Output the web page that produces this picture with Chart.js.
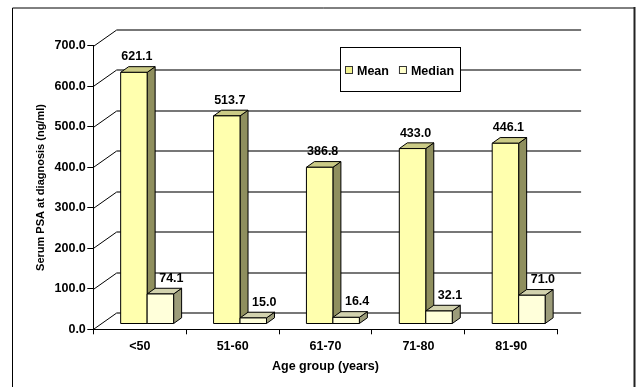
<!DOCTYPE html>
<html>
<head>
<meta charset="utf-8">
<script src="https://cdn.jsdelivr.net/npm/chart.js@4.4.1/dist/chart.umd.min.js"></script>
<style>
  html, body { margin: 0; padding: 0; background: #fff; }
  #wrap { width: 637px; height: 387px; position: relative; }
</style>
</head>
<body>
<div id="wrap"><canvas id="psa" width="637" height="387"></canvas></div>
<script>
// Serum PSA at diagnosis by age group
const ageGroups = ['<50', '51-60', '61-70', '71-80', '81-90'];
const meanPSA = [621.1, 513.7, 386.8, 433.0, 446.1];
const medianPSA = [74.1, 15.0, 16.4, 32.1, 71.0];
const psaTicks = [0, 100, 200, 300, 400, 500, 600, 700];

const FONT = "'Liberation Sans', Arial, Helvetica, sans-serif";

// Oblique projection of the depth axis (back wall offset)
const WALL = { dx: 23.4, dy: -16.5 };
// Bars sit in the middle of the depth
const BAR_SHIFT = { dx: 7.4, dy: -5.3 };
const BAR_DEPTH = { dx: 8, dy: -5.7 };

const bar3d = {
  id: 'bar3d',
  beforeDraw(chart) {
    const ctx = chart.ctx;
    ctx.save();
    ctx.fillStyle = '#fff';
    ctx.fillRect(0, 0, chart.width, chart.height);
    // page frame
    ctx.strokeStyle = '#000';
    ctx.lineWidth = 1;
    ctx.beginPath();
    ctx.moveTo(12.5, 400);
    ctx.lineTo(12.5, 8);
    ctx.lineTo(634, 8);
    ctx.stroke();
    ctx.lineWidth = 2;
    ctx.strokeStyle = '#222';
    ctx.beginPath();
    ctx.moveTo(634.5, 7);
    ctx.lineTo(634.5, 400);
    ctx.stroke();
    ctx.restore();
  },
  beforeDatasetsDraw(chart) {
    const { ctx, chartArea: a, scales: { y } } = chart;
    ctx.save();
    y.ticks.forEach(t => {
      const py = Math.round(y.getPixelForValue(t.value)) + 0.5;
      ctx.strokeStyle = '#000';
      ctx.lineWidth = 1;
      ctx.beginPath();
      ctx.moveTo(a.left, py);
      ctx.lineTo(a.left + WALL.dx, py + WALL.dy);
      ctx.stroke();
      ctx.strokeStyle = '#4a4a4a';
      ctx.lineWidth = 1.4;
      ctx.beginPath();
      ctx.moveTo(a.left + WALL.dx, py + WALL.dy);
      ctx.lineTo(a.right + WALL.dx, py + WALL.dy);
      ctx.stroke();
    });
    ctx.restore();
  },
  // the flat bars are replaced by the 3D boxes below
  beforeDatasetDraw() { return false; },
  afterDatasetsDraw(chart) {
    const ctx = chart.ctx;
    const sets = chart.data.datasets;
    ctx.save();
    ctx.lineWidth = 1;
    ctx.strokeStyle = '#000';
    ctx.lineJoin = 'miter';
    const poly = (pts, fill) => {
      ctx.beginPath();
      ctx.moveTo(pts[0][0], pts[0][1]);
      for (let k = 1; k < pts.length; k++) ctx.lineTo(pts[k][0], pts[k][1]);
      ctx.closePath();
      ctx.fillStyle = fill;
      ctx.fill();
      ctx.stroke();
    };
    const labels = [];
    const n = chart.data.labels.length;
    for (let i = 0; i < n; i++) {
      sets.forEach((ds, d) => {
        const el = chart.getDatasetMeta(d).data[i];
        const l = el.x - el.width / 2 + BAR_SHIFT.dx;
        const r = el.x + el.width / 2 + BAR_SHIFT.dx;
        const t = el.y + BAR_SHIFT.dy;
        const b = el.base + BAR_SHIFT.dy;
        const bx = BAR_DEPTH.dx, by = BAR_DEPTH.dy;
        poly([[r, t], [r + bx, t + by], [r + bx, b + by], [r, b]], ds.sideColor);
        poly([[l, t], [l + bx, t + by], [r + bx, t + by], [r, t]], ds.topColor);
        poly([[l, t], [r, t], [r, b], [l, b]], ds.backgroundColor);
        labels.push({
          text: ds.data[i].toFixed(1),
          x: (l + r) / 2 + bx / 2 + ds.labelShift,
          y: t - 12
        });
      });
    }
    ctx.fillStyle = '#000';
    ctx.font = 'bold 12.5px ' + FONT;
    ctx.textAlign = 'center';
    ctx.textBaseline = 'alphabetic';
    labels.forEach(lb => ctx.fillText(lb.text, lb.x, lb.y));

    // legend box
    const box = { x: 340.5, y: 47.5, w: 120, h: 44 };
    ctx.fillStyle = '#fff';
    ctx.fillRect(box.x, box.y, box.w, box.h);
    ctx.strokeStyle = '#000';
    ctx.strokeRect(box.x, box.y, box.w, box.h);
    let lx = 345.5;
    ctx.textAlign = 'left';
    sets.forEach(ds => {
      ctx.fillStyle = ds.legendColor;
      ctx.fillRect(lx, 66.5, 7, 7);
      ctx.strokeStyle = '#333';
      ctx.strokeRect(lx, 66.5, 7, 7);
      ctx.fillStyle = '#000';
      ctx.fillText(ds.label, lx + 11.5, 74.7);
      lx += 11.5 + ctx.measureText(ds.label).width + 10.5;
    });
    ctx.restore();
  }
};

new Chart(document.getElementById('psa'), {
  type: 'bar',
  data: {
    labels: ageGroups,
    datasets: [
      {
        label: 'Mean',
        data: meanPSA,
        backgroundColor: '#FFFFAE',
        sideColor: '#8F8F5E',
        topColor: '#CBCB86',
        legendColor: '#F2F290',
        labelShift: -1,
        categoryPercentage: 0.57,
        barPercentage: 1
      },
      {
        label: 'Median',
        data: medianPSA,
        backgroundColor: '#FFFFDA',
        sideColor: '#9C9C7A',
        topColor: '#D2D2AE',
        legendColor: '#FFFFCC',
        labelShift: 7,
        categoryPercentage: 0.57,
        barPercentage: 1
      }
    ]
  },
  options: {
    responsive: false,
    animation: false,
    devicePixelRatio: 1,
    events: [],
    layout: { padding: { top: 45.7, right: 79.3, bottom: 0, left: 0 } },
    plugins: {
      legend: { display: false },
      tooltip: { enabled: false },
      title: { display: false }
    },
    scales: {
      x: {
        type: 'category',
        offset: true,
        grid: {
          offset: true,
          drawOnChartArea: false,
          drawTicks: true,
          tickLength: 5,
          color: '#000',
          tickColor: '#000',
          lineWidth: 1
        },
        border: { display: true, color: '#000', width: 1 },
        ticks: {
          color: '#000',
          font: { family: FONT, size: 12.5, weight: 'bold' },
          padding: 4.5,
          maxRotation: 0,
          autoSkip: false
        },
        title: {
          display: true,
          text: 'Age group (years)',
          color: '#000',
          font: { family: FONT, size: 12.5, weight: 'bold' },
          padding: { top: 0, bottom: 13 }
        },
        afterFit(s) { s.height = 57.7; }
      },
      y: {
        min: 0,
        max: 700,
        afterBuildTicks(s) { s.ticks = psaTicks.map(v => ({ value: v })); },
        grid: {
          drawOnChartArea: false,
          drawTicks: true,
          tickLength: 6,
          color: '#000',
          tickColor: '#000',
          lineWidth: 1
        },
        border: { display: true, color: '#000', width: 1 },
        ticks: {
          color: '#000',
          font: { family: FONT, size: 12.5, weight: 'bold' },
          padding: 1.5,
          callback: v => Number(v).toFixed(1)
        },
        title: {
          display: true,
          text: 'Serum PSA at diagnosis (ng/ml)',
          color: '#000',
          font: { family: FONT, size: 11, weight: 'bold' },
          padding: { top: 34.5, bottom: 0 }
        },
        afterFit(s) { s.width = 93.3; }
      }
    }
  },
  plugins: [bar3d]
});
</script>
</body>
</html>
